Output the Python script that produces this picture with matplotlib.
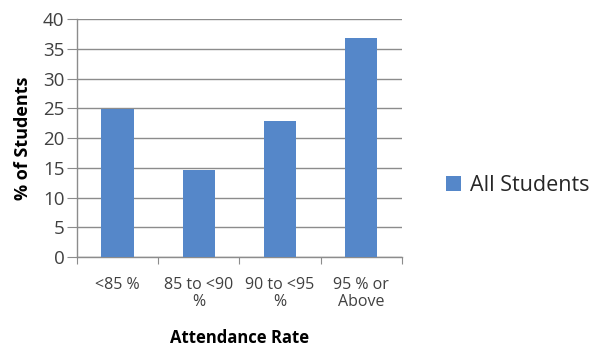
import numpy as np
import matplotlib.pyplot as plt
from matplotlib.patches import Patch

# Data
categories = ['<85 %', '85 to <90\n%', '90 to <95\n%', '95 % or\nAbove']
all_students = [24.9, 14.7, 22.9, 36.9]
series_name = 'All Students'

plt.rcParams['font.family'] = ['Open Sans', 'DejaVu Sans']

fig = plt.figure(figsize=(5.97, 3.47), dpi=100)
ax = fig.add_axes([0.129, 0.259, 0.544, 0.686])

x = np.arange(len(categories))
bar_color = '#5587C9'
ax.bar(x, all_students, width=0.4, color=bar_color, zorder=3)

# Axes limits and grid
ax.set_xlim(-0.5, len(categories) - 0.5)
ax.set_ylim(0, 40)
ax.set_yticks(np.arange(0, 41, 5))
ax.yaxis.grid(True, color='#8c8c8c', linewidth=1, zorder=0)

# x ticks: marks at category boundaries, labels at centres
ax.set_xticks(np.arange(-0.5, len(categories), 1.0))
ax.set_xticklabels([])
ax.set_xticks(x, minor=True)
ax.set_xticklabels(categories, minor=True, fontsize=11.5, color='#404040',
                   linespacing=1.1)
ax.tick_params(axis='x', which='major', length=5, color='#8c8c8c', direction='out')
ax.tick_params(axis='x', which='minor', length=0, pad=14)
ax.tick_params(axis='y', length=7, color='#8c8c8c', labelsize=13.5,
               labelcolor='#404040', pad=2)

for side in ['top', 'right']:
    ax.spines[side].set_visible(False)
for side in ['left', 'bottom']:
    ax.spines[side].set_color('#8c8c8c')
    ax.spines[side].set_linewidth(1)

ax.set_ylabel('% of Students', fontsize=13, fontweight='bold', labelpad=8)
ax.set_xlabel('Attendance Rate', fontsize=12, fontweight='bold', labelpad=14)

# Legend to the right of the plot
handles = [Patch(facecolor=bar_color, label=series_name)]
fig.legend(handles=handles, loc='center left', bbox_to_anchor=(0.715, 0.465),
           frameon=False, fontsize=15.5, handlelength=0.7, handleheight=0.7,
           handletextpad=0.4, labelcolor='#262626')

fig.savefig('out.png', dpi=100)
